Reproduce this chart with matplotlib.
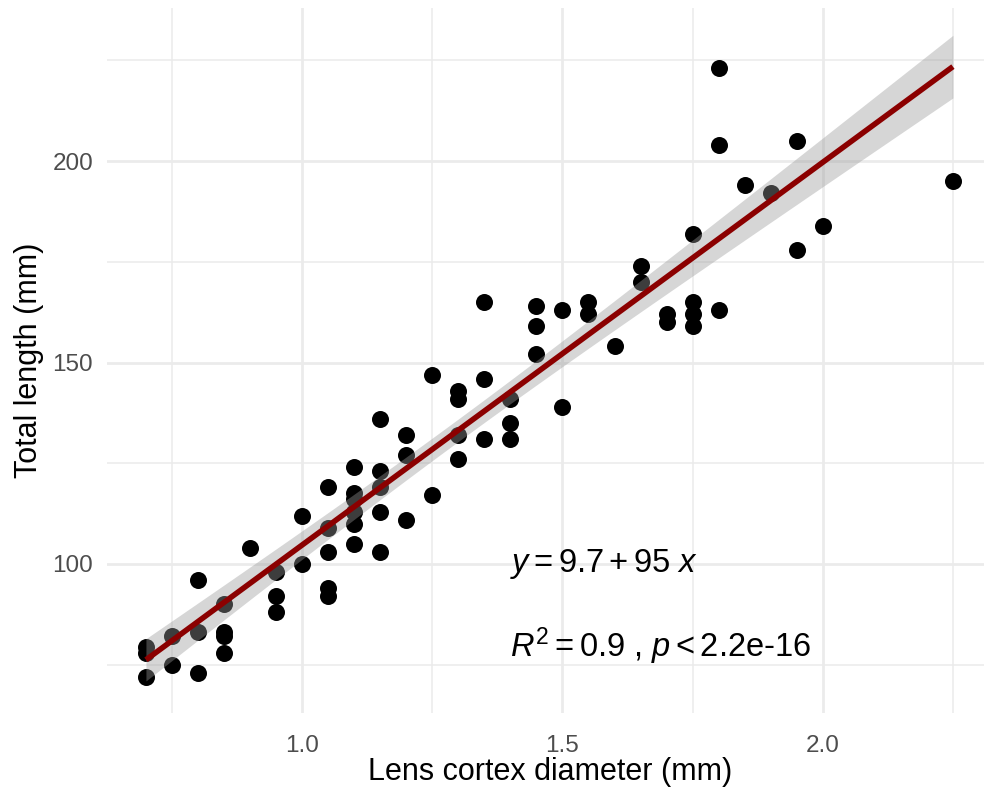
import numpy as np
import matplotlib
matplotlib.use("Agg")
import matplotlib.pyplot as plt

plt.rcParams['font.family'] = ['Liberation Sans', 'DejaVu Sans']
plt.rcParams['mathtext.fontset'] = 'custom'
plt.rcParams['mathtext.rm'] = 'Liberation Sans'
plt.rcParams['mathtext.it'] = 'Liberation Sans:italic'

# Lens cortex diameter (mm) and total length (mm) of each specimen
lens_diameter = [
    0.70, 0.70, 0.70,
    0.75, 0.75,
    0.80, 0.80, 0.80,
    0.85, 0.85, 0.85, 0.85,
    0.90,
    0.95, 0.95, 0.95,
    1.00, 1.00,
    1.05, 1.05, 1.05, 1.05, 1.05,
    1.10, 1.10, 1.10, 1.10, 1.10, 1.10,
    1.15, 1.15, 1.15, 1.15, 1.15,
    1.20, 1.20, 1.20,
    1.25, 1.25,
    1.30, 1.30, 1.30, 1.30,
    1.35, 1.35, 1.35,
    1.40, 1.40, 1.40,
    1.45, 1.45, 1.45,
    1.50, 1.50,
    1.55, 1.55,
    1.60,
    1.65, 1.65,
    1.70, 1.70,
    1.75, 1.75, 1.75, 1.75,
    1.80, 1.80, 1.80,
    1.85,
    1.90,
    1.95, 1.95,
    2.00,
    2.25,
]
total_length = [
    79.5, 78, 72,
    82, 75,
    96, 83, 73,
    90, 83, 82, 78,
    104,
    98, 92, 88,
    112, 100,
    119, 109, 103, 94, 92,
    124, 117.5, 116, 113, 110, 105,
    136, 123, 119, 113, 103,
    132, 127, 111,
    147, 117,
    143, 141, 132, 126,
    165, 146, 131,
    141, 135, 131,
    164, 159, 152,
    163, 139,
    165, 162,
    154,
    174, 170,
    162, 160,
    182, 165, 162, 159,
    223, 204, 163,
    194,
    192,
    205, 178,
    184,
    195,
]

# Fitted regression reported on the chart
intercept = 9.7
slope = 95
r_squared = 0.9

x_ticks = [1.0, 1.5, 2.0]
x_minor = [0.75, 1.25, 1.75, 2.25]
y_ticks = [100, 150, 200]
y_minor = [75, 125, 175, 225]

x = np.array(lens_diameter)
y = np.array(total_length)
n = len(x)

# 95% confidence band around the regression line
xs = np.linspace(x.min(), x.max(), 200)
fit = intercept + slope * xs
resid = y - (intercept + slope * x)
s = np.sqrt(np.sum(resid ** 2) / (n - 2))
sxx = np.sum((x - x.mean()) ** 2)
se = s * np.sqrt(1.0 / n + (xs - x.mean()) ** 2 / sxx)
t_crit = 1.993
lower = fit - t_crit * se
upper = fit + t_crit * se

W, H = 984, 790
fig = plt.figure(figsize=(W / 100, H / 100), dpi=100)
left, right, top, bottom = 107, 993, 8, 713
ax = fig.add_axes([left / W, 1 - bottom / H, (right - left) / W, (bottom - top) / H])

ax.set_xlim(0.6252, 2.327)
ax.set_ylim(63.0, 238.0)

for sp in ax.spines.values():
    sp.set_visible(False)

ax.set_xticks(x_ticks)
ax.set_xticklabels(['1.0', '1.5', '2.0'])
ax.set_xticks(x_minor, minor=True)
ax.set_yticks(y_ticks)
ax.set_yticks(y_minor, minor=True)
ax.tick_params(which='both', length=0)
ax.tick_params(axis='x', which='major', pad=16, labelsize=17.5, labelcolor='#4D4D4D')
ax.tick_params(axis='y', which='major', pad=10, labelsize=17.5, labelcolor='#4D4D4D')

ax.grid(which='major', color='#EBEBEB', linewidth=2.0)
ax.grid(which='minor', color='#EBEBEB', linewidth=1.1)
ax.set_axisbelow(True)

ax.scatter(x, y, s=150, color='black', linewidths=0, zorder=2)
ax.fill_between(xs, lower, upper, color='#999999', alpha=0.4, linewidth=0, zorder=3)
ax.plot(xs, fit, color='#8B0000', linewidth=4.0, zorder=4, solid_capstyle='butt')

ax.text(1.4, 100, r'$y = 9.7 + 95\ x$', fontsize=23.5, ha='left', va='center', zorder=5)
ax.text(1.4, 79.5, r'$R^2 = 0.9$ , $p < 2.2$e-16', fontsize=23.5, ha='left', va='center', zorder=5)

fig.text(550 / W, 1 - 772 / H, 'Lens cortex diameter (mm)', fontsize=22, ha='center', va='center')
fig.text(29 / W, 1 - 360 / H, 'Total length (mm)', fontsize=22, ha='center', va='center', rotation=90)

fig.savefig('out.png', dpi=100)
